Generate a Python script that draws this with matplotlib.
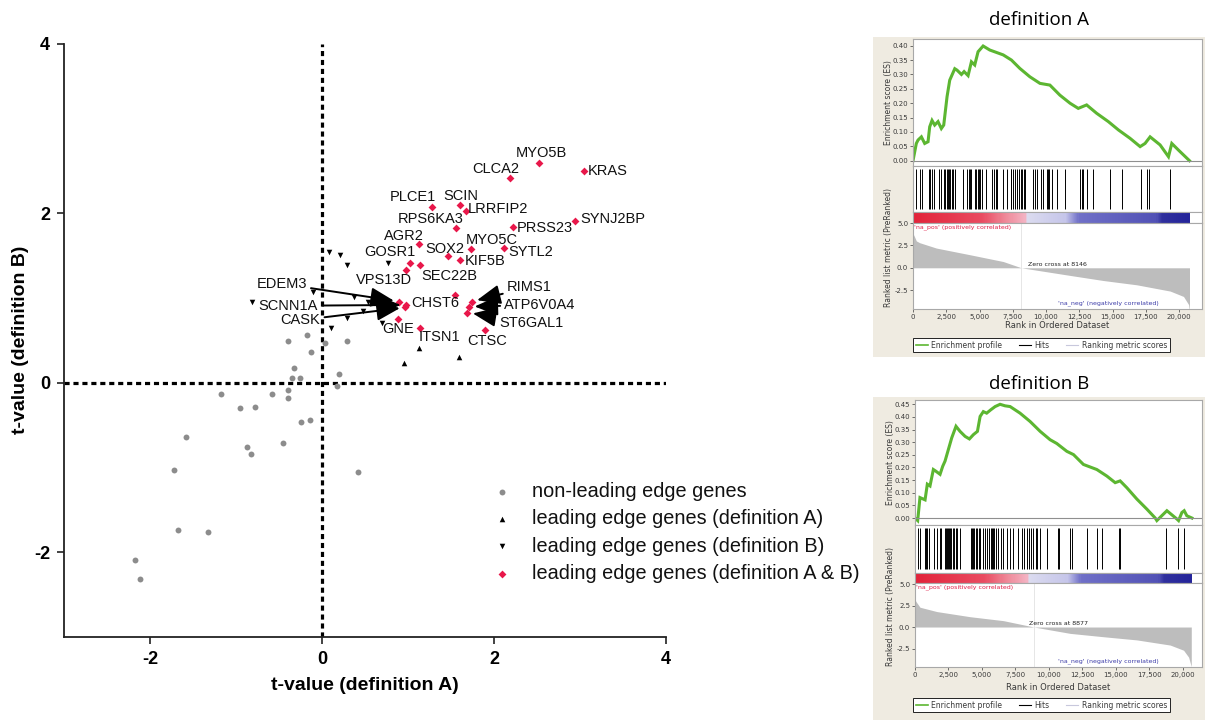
import matplotlib
matplotlib.use("Agg")
import matplotlib.pyplot as plt
from matplotlib.lines import Line2D
from matplotlib.colors import LinearSegmentedColormap
import numpy as np

plt.rcParams["axes.unicode_minus"] = False

# ---------------- data: main scatter ----------------
nonlead_x = [-0.40, -0.17, 0.03, 0.29, -0.13, -0.33, -0.35, -0.26, 0.20, -1.17, -0.58, -0.40,
             -0.40, 0.17, -0.95, -0.78, -0.25, -0.14, -1.58, -0.87, -0.83, -0.45, 0.42, -1.72,
             -1.68, -1.32, -2.17, -2.12]
nonlead_y = [0.50, 0.57, 0.47, 0.50, 0.36, 0.18, 0.06, 0.06, 0.10, -0.13, -0.13, -0.09,
             -0.18, -0.04, -0.30, -0.28, -0.46, -0.44, -0.64, -0.76, -0.84, -0.71, -1.05, -1.03,
             -1.74, -1.76, -2.09, -2.31]

leadA_x = [0.95, 1.13, 1.59]
leadA_y = [0.24, 0.41, 0.31]

leadB_x = [-0.81, -0.11, 0.08, 0.21, 0.29, 0.77, 0.37, 0.53, 0.58, 0.48, 0.29, 0.11, 0.70]
leadB_y = [0.96, 1.07, 1.55, 1.51, 1.39, 1.42, 1.01, 0.96, 0.94, 0.85, 0.77, 0.65, 0.71]

genes = ["MYO5B", "CLCA2", "KRAS", "PLCE1", "SCIN", "LRRFIP2", "RPS6KA3", "PRSS23", "SYNJ2BP",
         "AGR2", "MYO5C", "SYTL2", "SOX2", "KIF5B", "GOSR1", "VPS13D", "SEC22B", "CHST6",
         "RIMS1", "ATP6V0A4", "ST6GAL1", "CTSC", "ITSN1", "GNE", "EDEM3", "SCNN1A", "CASK"]
leadAB_x = [2.52, 2.19, 3.05, 1.28, 1.60, 1.67, 1.56, 2.22, 2.94,
            1.13, 1.73, 2.12, 1.47, 1.61, 1.02, 0.98, 1.14, 1.55,
            1.74, 1.71, 1.69, 1.90, 1.14, 0.88, 0.90, 0.98, 0.97]
leadAB_y = [2.60, 2.42, 2.50, 2.07, 2.10, 2.03, 1.83, 1.84, 1.91,
            1.64, 1.58, 1.59, 1.50, 1.45, 1.42, 1.33, 1.39, 1.04,
            0.96, 0.90, 0.83, 0.62, 0.65, 0.75, 0.96, 0.92, 0.89]

legend_labels = ["non-leading edge genes", "leading edge genes (definition A)",
                 "leading edge genes (definition B)", "leading edge genes (definition A & B)"]

# ---------------- data: GSEA definition A ----------------
esA_rank = [0, 250, 380, 630, 880, 1130, 1255, 1430, 1630, 1880, 2130, 2310, 2560, 2760, 3140,
            3310, 3640, 3840, 4140, 4390, 4640, 4890, 5270, 5770, 6780, 7400, 8030, 8780, 9540,
            10290, 11040, 11800, 12420, 13050, 13800, 14680, 15440, 16310, 17070, 17440, 17820,
            18570, 19200, 19450, 19950, 20780]
esA_val = [0.0, 0.060, 0.072, 0.083, 0.060, 0.066, 0.118, 0.140, 0.124, 0.136, 0.112, 0.124,
           0.223, 0.280, 0.320, 0.315, 0.300, 0.310, 0.296, 0.344, 0.333, 0.379, 0.399, 0.385,
           0.368, 0.350, 0.321, 0.292, 0.269, 0.263, 0.228, 0.200, 0.182, 0.194, 0.165, 0.136,
           0.107, 0.078, 0.049, 0.060, 0.083, 0.055, 0.014, 0.060, 0.037, 0.0]
hitsA = [250, 500, 680, 1200, 1300, 1410, 1560, 1930, 2130, 2360, 2430, 2530, 2610, 2710, 2810,
         2910, 3010, 3190, 3770, 4070, 4220, 4320, 4390, 4690, 4770, 4870, 4970, 5050, 5170, 5520,
         5900, 6070, 6220, 6330, 6780, 7030, 7330, 7400, 7530, 7630, 7780, 7930, 8080, 8210, 8330,
         8430, 9040, 9160, 9290, 9590, 9790, 10040, 10120, 10220, 10420, 10790, 11420, 12550,
         12680, 12800, 13050, 13500, 14810, 15690, 17120, 17620, 17770, 19330]
metA_rank = [0, 75, 250, 500, 1760, 4270, 6780, 8146, 11800, 14300, 16820, 19330, 20330, 20710, 20780]
metA_val = [3.8, 3.6, 3.0, 2.8, 2.2, 1.46, 0.7, 0.0, -0.85, -1.42, -1.9, -2.6, -3.2, -4.1, -4.8]
zeroA = 8146
endA = 20780

# ---------------- data: GSEA definition B ----------------
esB_rank = [0, 200, 370, 620, 750, 920, 1120, 1370, 1540, 1870, 2070, 2240, 2490, 2740, 3060,
            3360, 3740, 4060, 4360, 4660, 4860, 5100, 5350, 5650, 5980, 6350, 6720, 7100, 7840,
            8590, 9340, 10080, 10580, 11330, 11830, 12570, 13570, 14320, 14940, 15310, 15810,
            16560, 17310, 17930, 18050, 18800, 19550, 19670, 19920, 20090, 20290, 20670]
esB_val = [0.0, -0.010, 0.081, 0.075, 0.072, 0.134, 0.127, 0.192, 0.186, 0.173, 0.205, 0.225,
           0.271, 0.317, 0.363, 0.343, 0.323, 0.313, 0.330, 0.343, 0.402, 0.421, 0.415, 0.428,
           0.441, 0.450, 0.444, 0.441, 0.415, 0.382, 0.343, 0.310, 0.295, 0.264, 0.251, 0.212,
           0.192, 0.166, 0.140, 0.147, 0.120, 0.075, 0.035, 0.0, -0.010, 0.029, -0.004, -0.010,
           0.022, 0.029, 0.009, 0.0]
hitsB = [250, 370, 750, 820, 870, 1070, 1420, 1620, 1870, 1940, 2240, 2320, 2420, 2490, 2570,
         2640, 2710, 2810, 2910, 3060, 3160, 3360, 4160, 4280, 4360, 4430, 4530, 4660, 4780, 4860,
         5060, 5230, 5350, 5550, 5650, 5730, 5800, 5900, 6030, 6230, 6400, 6600, 6850, 7100, 7350,
         7720, 7970, 8140, 8340, 8490, 8640, 8840, 9010, 9090, 9340, 9840, 10660, 10760, 11580,
         11700, 12820, 13570, 13990, 15260, 15310, 18750, 19620, 20050]
metB_rank = [0, 75, 374, 1619, 4109, 6599, 8877, 11580, 14070, 16560, 19050, 20045, 20420, 20620]
metB_val = [3.2, 2.96, 2.3, 1.8, 1.2, 0.74, 0.0, -0.74, -1.13, -1.5, -2.1, -2.7, -3.5, -4.6]
zeroB = 8877
endB = 20620

rank_ticks = [0, 2500, 5000, 7500, 10000, 12500, 15000, 17500, 20000]
rank_ticklabels = ["0", "2,500", "5,000", "7,500", "10,000", "12,500", "15,000", "17,500", "20,000"]

# ---------------- figure ----------------
W, H = 1208, 720
fig = plt.figure(figsize=(W / 100, H / 100), dpi=100)
fig.patch.set_facecolor("white")
MAINFONT = ["Liberation Sans", "DejaVu Sans"]


def px_axes(x0, y0, x1, y1, **kw):
    return fig.add_axes([x0 / W, 1 - y1 / H, (x1 - x0) / W, (y1 - y0) / H], **kw)


ax = px_axes(64, 44, 666, 637)
ax.set_xlim(-3, 4)
ax.set_ylim(-3, 4)
for s in ["top", "right"]:
    ax.spines[s].set_visible(False)
for s in ["left", "bottom"]:
    ax.spines[s].set_linewidth(1.3)
    ax.spines[s].set_color("#222222")
ax.set_xticks([-2, 0, 2, 4])
ax.set_yticks([-2, 0, 2, 4])
ax.tick_params(direction="out", length=5, width=1.2, colors="#222222", labelsize=13, pad=5)
for lab in ax.get_xticklabels() + ax.get_yticklabels():
    lab.set_fontweight("bold")
    lab.set_family(MAINFONT)
    lab.set_color("black")

dash = (0, (1.6, 1.2))
ax.axhline(0, color="black", lw=2.3, linestyle=dash, zorder=1)
ax.axvline(0, color="black", lw=2.3, linestyle=dash, zorder=1)

h1 = ax.scatter(nonlead_x, nonlead_y, s=18, marker="o", color="#8c8c8c", linewidths=0, zorder=3)
h2 = ax.scatter(leadA_x, leadA_y, s=16, marker="^", color="black", linewidths=0, zorder=3)
h3 = ax.scatter(leadB_x, leadB_y, s=16, marker="v", color="black", linewidths=0, zorder=3)
h4 = ax.scatter(leadAB_x, leadAB_y, s=16, marker="D", color="#e8174a", linewidths=0, zorder=4)

# label layout (text position in data coords, alignment, arrow?)
label_layout = {
    "MYO5B": (2.55, 2.71, "center", False),
    "CLCA2": (2.02, 2.53, "center", False),
    "KRAS": (3.09, 2.50, "left", False),
    "PLCE1": (1.06, 2.19, "center", False),
    "SCIN": (1.61, 2.21, "center", False),
    "LRRFIP2": (1.70, 2.05, "left", False),
    "RPS6KA3": (1.26, 1.93, "center", False),
    "PRSS23": (2.26, 1.83, "left", False),
    "SYNJ2BP": (3.00, 1.93, "left", False),
    "AGR2": (0.95, 1.73, "center", False),
    "MYO5C": (1.97, 1.69, "center", False),
    "SYTL2": (2.17, 1.55, "left", False),
    "SOX2": (1.43, 1.58, "center", False),
    "KIF5B": (1.66, 1.44, "left", False),
    "GOSR1": (0.79, 1.54, "center", False),
    "VPS13D": (0.72, 1.21, "center", False),
    "SEC22B": (1.48, 1.26, "center", False),
    "CHST6": (1.32, 0.94, "center", False),
    "RIMS1": (2.15, 1.13, "left", True),
    "ATP6V0A4": (2.12, 0.92, "left", True),
    "ST6GAL1": (2.06, 0.71, "left", True),
    "CTSC": (1.92, 0.49, "center", False),
    "ITSN1": (1.36, 0.54, "center", False),
    "GNE": (0.88, 0.64, "center", False),
    "EDEM3": (-0.47, 1.17, "center", True),
    "SCNN1A": (-0.39, 0.91, "center", True),
    "CASK": (-0.25, 0.74, "center", True),
}
for g, gx, gy in zip(genes, leadAB_x, leadAB_y):
    tx, ty, ha, arrow = label_layout[g]
    if arrow:
        ax.annotate(g, xy=(gx, gy), xytext=(tx, ty), textcoords="data", ha=ha, va="center",
                    fontsize=10.5, family=MAINFONT, color="#111111", zorder=5,
                    arrowprops=dict(arrowstyle="-|>,head_length=1.2,head_width=0.5",
                                    color="black", lw=1.4, mutation_scale=12,
                                    shrinkA=1, shrinkB=4))
    else:
        ax.text(tx, ty, g, ha=ha, va="center", fontsize=10.5, family=MAINFONT,
                color="#111111", zorder=5)

leg = ax.legend([h1, h2, h3, h4], legend_labels, loc="upper left",
                bbox_to_anchor=(494 / W, 1 - 482 / H), bbox_transform=fig.transFigure,
                frameon=False, handlelength=0.8, handletextpad=1.1,
                labelspacing=0.42, borderpad=0, borderaxespad=0, scatterpoints=1,
                prop={"family": MAINFONT, "size": 14.3})
for t in leg.get_texts():
    t.set_color("#111111")

fig.text(365 / W, 1 - 686 / H, "t-value (definition A)", ha="center", va="center",
         fontsize=14, fontweight="bold", family=MAINFONT)
fig.text(21 / W, 1 - 340 / H, "t-value (definition B)", ha="center", va="center",
         fontsize=14, fontweight="bold", family=MAINFONT, rotation=90)

# ---------------- GSEA panels ----------------
gsea_cmap = LinearSegmentedColormap.from_list(
    "gsea", [(0.0, "#e2233a"), (0.25, "#ea4c62"), (0.33, "#ef8797"), (0.405, "#f4b3c3"),
             (0.41, "#dcdcf0"), (0.55, "#c6c6ea"), (0.6, "#7070c8"), (0.88, "#5252b6"),
             (0.9, "#30309e"), (1.0, "#24249a")])
FRAME = "#a8a8a8"
TXT = "#3a3a3a"


def style_frame(a):
    for s in a.spines.values():
        s.set_color(FRAME)
        s.set_linewidth(0.8)


def gsea_panel(geom, es_rank, es_val, hits, met_rank, met_val, zero, end, title):
    (bx0, by0, bx1, by1, x0, x1, es_top, es_bot, hit_bot, cb_bot, met_bot, xmax,
     es_ylim, es_ticks, met_ylim, title_y, rank_y, leg_y, ylab_x) = geom
    bg = px_axes(bx0, by0, bx1, by1)
    bg.set_facecolor("#efebe1")
    bg.set_xticks([])
    bg.set_yticks([])
    for s in bg.spines.values():
        s.set_visible(False)
    bg.set_zorder(-5)
    fig.text((bx0 + bx1) / 2 / W, 1 - title_y / H, title, ha="center", va="center",
             fontsize=13.5, family=["Open Sans", "DejaVu Sans"])

    a1 = px_axes(x0, es_top, x1, es_bot)
    a1.plot(es_rank, es_val, color="#5cb631", lw=2.2, solid_joinstyle="miter")
    a1.axhline(0, color="#8f8f8f", lw=0.8)
    a1.set_xlim(0, xmax)
    a1.set_ylim(*es_ylim)
    a1.set_yticks(es_ticks)
    a1.set_yticklabels(["%.2f" % v for v in es_ticks])
    a1.set_xticks([])
    a1.tick_params(axis="y", labelsize=5, colors=TXT, length=2, width=0.5, pad=1.5)
    style_frame(a1)
    fig.text(ylab_x / W, 1 - (es_top + es_bot) / 2 / H, "Enrichment score (ES)", rotation=90,
             ha="center", va="center", fontsize=5.5, color=TXT)

    a2 = px_axes(x0, es_bot, x1, hit_bot)
    a2.vlines(hits, 0.08, 1.0, color="black", lw=0.7)
    a2.set_xlim(0, xmax)
    a2.set_ylim(0, 1.06)
    a2.set_xticks([])
    a2.set_yticks([])
    style_frame(a2)

    a3 = px_axes(x0, hit_bot, x1, cb_bot)
    a3.imshow(np.linspace(0, 1, 256)[None, :], aspect="auto", cmap=gsea_cmap,
              extent=(0, end, 0, 1), interpolation="nearest")
    a3.set_xlim(0, xmax)
    a3.set_ylim(0, 1)
    a3.set_xticks([])
    a3.set_yticks([])
    style_frame(a3)

    a4 = px_axes(x0, cb_bot, x1, met_bot)
    a4.fill_between(met_rank, 0, met_val, color="#bdbdbd", lw=0)
    a4.plot([zero, zero], [met_ylim[0], met_ylim[1]], color="#e2e2e2", lw=0.6)
    a4.set_xlim(0, xmax)
    a4.set_ylim(*met_ylim)
    a4.set_yticks([5.0, 2.5, 0.0, -2.5])
    a4.set_yticklabels(["5.0", "2.5", "0.0", "-2.5"])
    a4.set_xticks(rank_ticks)
    a4.set_xticklabels(rank_ticklabels)
    a4.tick_params(labelsize=5, colors=TXT, length=2, width=0.5, pad=1.5)
    style_frame(a4)
    a4.text(0.003, 0.955, "'na_pos' (positively correlated)", transform=a4.transAxes,
            color="#e01e48", fontsize=4.5, ha="left", va="center")
    a4.text(0.5, 0.52, "Zero cross at %d" % zero, transform=a4.transAxes, color="#222222",
            fontsize=4.5, ha="center", va="center")
    a4.text(0.85, 0.07, "'na_neg' (negatively correlated)", transform=a4.transAxes,
            color="#3c3ca8", fontsize=4.5, ha="right", va="center")
    fig.text(ylab_x / W, 1 - (es_bot + met_bot + 20) / 2 / H, "Ranked list metric (PreRanked)",
             rotation=90, ha="center", va="center", fontsize=5.5, color=TXT)
    fig.text((x0 + x1) / 2 / W, 1 - rank_y / H, "Rank in Ordered Dataset", ha="center",
             va="center", fontsize=6, color=TXT)

    handles = [Line2D([], [], color="#5cb631", lw=1.2), Line2D([], [], color="black", lw=0.8),
               Line2D([], [], color="#c8c8dc", lw=0.8)]
    lg = fig.legend(handles, ["Enrichment profile", "Hits", "Ranking metric scores"], ncol=3,
                    loc="center", bbox_to_anchor=((bx0 + bx1) / 2 / W + 0.002, 1 - leg_y / H),
                    fontsize=5.5, frameon=True, fancybox=False, edgecolor="#222222",
                    framealpha=1, handlelength=1.6, handletextpad=0.4, columnspacing=2.2,
                    borderpad=0.35)
    lg.get_frame().set_linewidth(0.7)
    for t in lg.get_texts():
        t.set_color(TXT)


geomA = (873, 37, 1205, 357, 913, 1202, 39, 166, 212, 223, 309, 21720,
         (-0.0184, 0.4233), [0.0, 0.05, 0.10, 0.15, 0.20, 0.25, 0.30, 0.35, 0.40],
         (-4.6, 5.0), 20, 326, 345, 888)
geomB = (873, 397, 1205, 720, 915, 1202, 400, 525, 573, 583, 667, 21420,
         (-0.0275, 0.467), [0.0, 0.05, 0.10, 0.15, 0.20, 0.25, 0.30, 0.35, 0.40, 0.45],
         (-4.65, 5.12), 384, 688, 705, 890)

gsea_panel(geomA, esA_rank, esA_val, hitsA, metA_rank, metA_val, zeroA, endA, "definition A")
gsea_panel(geomB, esB_rank, esB_val, hitsB, metB_rank, metB_val, zeroB, endB, "definition B")

fig.savefig("out.png", dpi=100)
